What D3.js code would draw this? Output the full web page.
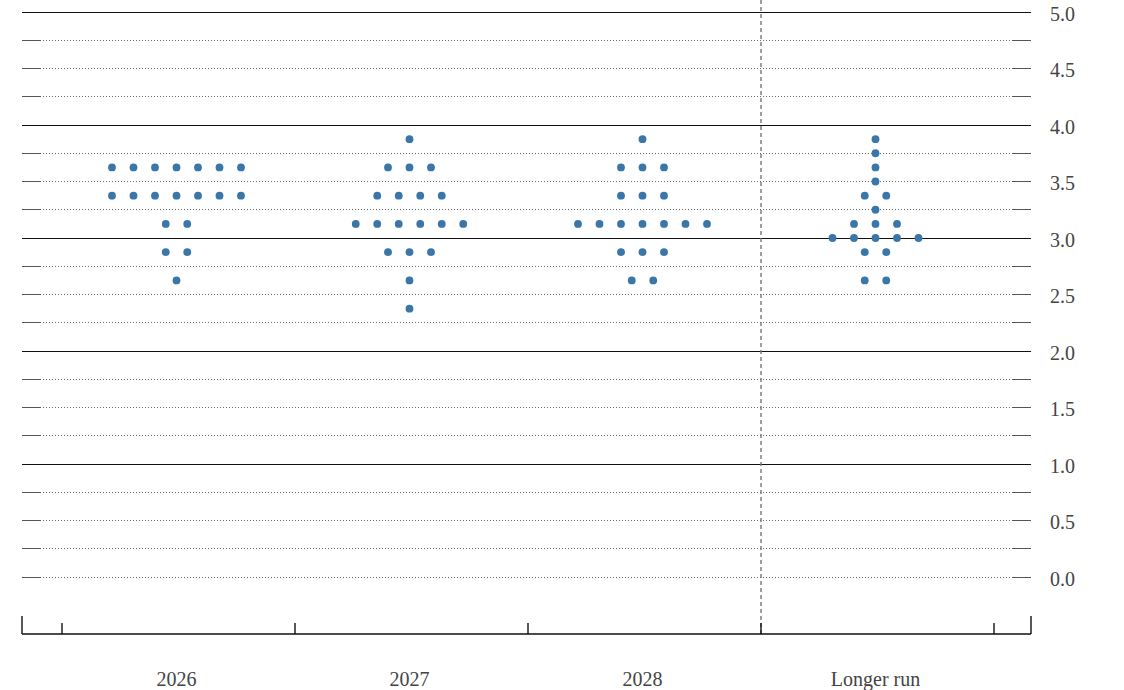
<!DOCTYPE html>
<html>
<head>
<meta charset="utf-8">
<script src="https://cdn.jsdelivr.net/npm/d3@7"></script>
<style>
  html, body { margin: 0; padding: 0; background: #fff; }
  svg { display: block; }
  text { font-family: "Liberation Serif", "DejaVu Serif", serif; fill: #444; }
</style>
</head>
<body>
<svg id="chart" width="1124" height="690"></svg>
<script>
// ---- Data ----
const categories = ["2026", "2027", "2028", "Longer run"];

// Each participant's projection (one value per dot)
const proj2026 = [3.625, 3.625, 3.625, 3.625, 3.625, 3.625, 3.625,
                  3.375, 3.375, 3.375, 3.375, 3.375, 3.375, 3.375,
                  3.125, 3.125, 2.875, 2.875, 2.625];
const proj2027 = [3.875, 3.625, 3.625, 3.625,
                  3.375, 3.375, 3.375, 3.375,
                  3.125, 3.125, 3.125, 3.125, 3.125, 3.125,
                  2.875, 2.875, 2.875, 2.625, 2.375];
const proj2028 = [3.875, 3.625, 3.625, 3.625,
                  3.375, 3.375, 3.375,
                  3.125, 3.125, 3.125, 3.125, 3.125, 3.125, 3.125,
                  2.875, 2.875, 2.875, 2.625, 2.625];
const projLonger = [3.875, 3.75, 3.625, 3.5, 3.375, 3.375, 3.25,
                    3.125, 3.125, 3.125,
                    3.0, 3.0, 3.0, 3.0, 3.0,
                    2.875, 2.875, 2.625, 2.625];
const projections = [proj2026, proj2027, proj2028, projLonger];

const yTickLabels = ["0.0", "0.5", "1.0", "1.5", "2.0", "2.5", "3.0", "3.5", "4.0", "4.5", "5.0"];
const yTickValues = [0, 0.5, 1, 1.5, 2, 2.5, 3, 3.5, 4, 4.5, 5];
const gridValues = d3.range(0, 5.001, 0.25);
const solidGridValues = [1, 2, 3, 4, 5];

// ---- Layout ----
const svg = d3.select("#chart");
const left = 22, right = 1031, axisY = 634;
const dotSpacing = 21.5, dotR = 3.9, dotColor = "#3b76a8";

const x = d3.scaleBand().domain(categories).range([62, 994]).padding(0);
const y = d3.scaleLinear().domain([0, 5]).range([577, 12]);
const cx = c => x(c) + x.bandwidth() / 2 - 2;

// Gridlines
const grid = svg.append("g").attr("shape-rendering", "crispEdges");
gridValues.forEach(v => {
  const yy = y(v);
  const major = solidGridValues.some(s => Math.abs(s - v) < 1e-9);
  if (major) {
    grid.append("line").attr("x1", left).attr("x2", right).attr("y1", yy).attr("y2", yy)
      .attr("stroke", "#111").attr("stroke-width", 1);
  } else {
    grid.append("line").attr("x1", 43).attr("x2", 1012).attr("y1", yy).attr("y2", yy)
      .attr("stroke", "#666").attr("stroke-width", 1).attr("stroke-dasharray", "1,2");
    grid.append("line").attr("x1", left).attr("x2", 41).attr("y1", yy).attr("y2", yy)
      .attr("stroke", "#555").attr("stroke-width", 1);
    grid.append("line").attr("x1", 1012).attr("x2", right).attr("y1", yy).attr("y2", yy)
      .attr("stroke", "#555").attr("stroke-width", 1);
  }
});

// Right y labels
svg.append("g").selectAll("text").data(yTickValues).join("text")
  .attr("x", 1050).attr("y", d => y(d) + 8.5)
  .attr("font-size", 20)
  .text((d, i) => yTickLabels[i]);

// Vertical dashed separator before "Longer run"
svg.append("line")
  .attr("x1", x("Longer run")).attr("x2", x("Longer run"))
  .attr("y1", 0).attr("y2", axisY)
  .attr("stroke", "#777").attr("stroke-width", 1.4).attr("stroke-dasharray", "4,3");

// Bottom axis
const ax = svg.append("g");
ax.append("line").attr("x1", left).attr("x2", right).attr("y1", axisY).attr("y2", axisY)
  .attr("stroke", "#111").attr("stroke-width", 1.4);
ax.append("line").attr("x1", left).attr("x2", left).attr("y1", 616).attr("y2", axisY)
  .attr("stroke", "#111").attr("stroke-width", 1.4);
ax.append("line").attr("x1", right).attr("x2", right).attr("y1", 616).attr("y2", axisY)
  .attr("stroke", "#111").attr("stroke-width", 1.4);
const bounds = categories.map(c => x(c)).concat([x(categories[categories.length - 1]) + x.bandwidth()]);
ax.selectAll("line.tk").data(bounds).join("line").attr("class", "tk")
  .attr("x1", d => d).attr("x2", d => d).attr("y1", 623).attr("y2", axisY)
  .attr("stroke", "#111").attr("stroke-width", 1.4);

// Category labels
svg.append("g").selectAll("text").data(categories).join("text")
  .attr("x", d => cx(d)).attr("y", 686)
  .attr("text-anchor", "middle").attr("font-size", 20)
  .text(d => d);

// Dots
const dots = [];
categories.forEach((c, ci) => {
  const vals = projections[ci];
  const groups = d3.rollup(vals, v => v.length, d => d);
  groups.forEach((n, v) => {
    for (let k = 0; k < n; k++) {
      dots.push({ c, v, off: (k - (n - 1) / 2) * dotSpacing });
    }
  });
});
svg.append("g").selectAll("circle").data(dots).join("circle")
  .attr("cx", d => cx(d.c) + d.off)
  .attr("cy", d => y(d.v))
  .attr("r", dotR)
  .attr("fill", dotColor);
</script>
</body>
</html>
